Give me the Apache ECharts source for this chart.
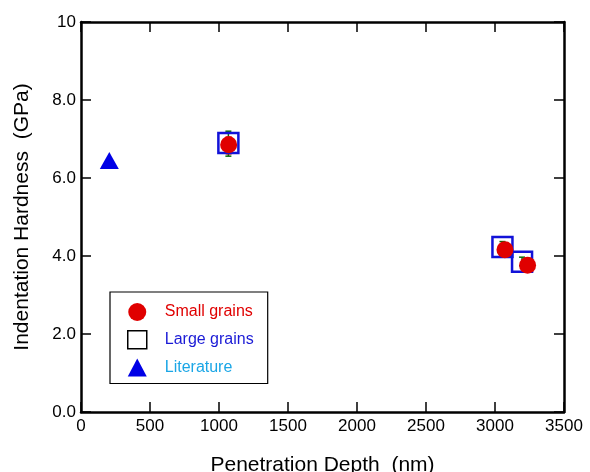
<!DOCTYPE html>
<html>
<head>
	<meta charset="utf-8" />
	<title>Indentation Hardness</title>
	<script src="https://cdn.jsdelivr.net/npm/echarts@6/dist/echarts.min.js"></script>
</head>
<body style="margin:0">
	<div id="main" style="width: 590px;height: 472px;"></div>
	<script type="text/javascript">
		// values
		var smallX = [1070, 3072, 3236];
		var smallY = [6.85, 4.16, 3.76];
		var smallLow = [6.62, 4.08, 3.70];
		var smallHigh = [7.05, 4.24, 3.82];

		var largeX = [1068, 3054, 3196];
		var largeY = [6.90, 4.23, 3.85];
		var largeLow = [6.56, 4.10, 3.75];
		var largeHigh = [7.20, 4.37, 3.97];

		var litX = [205];
		var litY = [6.45];

		var xTicks = [0, 500, 1000, 1500, 2000, 2500, 3000, 3500];
		var yTicks = [0, 2, 4, 6, 8, 10];

		function pairs(xs, ys) {
			return xs.map(function (x, i) { return [x, ys[i]]; });
		}
		function bars(xs, lo, hi) {
			return xs.map(function (x, i) { return [x, lo[i], hi[i]]; });
		}

		// vertical error bar with small caps
		function errorBar(params, api) {
			var top = api.coord([api.value(0), api.value(2)]);
			var bot = api.coord([api.value(0), api.value(1)]);
			var c = api.visual('color');
			var w = 3;
			var st = { stroke: c, lineWidth: 1.5 };
			return {
				type: 'group',
				children: [
					{ type: 'line', shape: { x1: top[0], y1: top[1], x2: bot[0], y2: bot[1] }, style: st },
					{ type: 'line', shape: { x1: top[0] - w, y1: top[1], x2: top[0] + w, y2: top[1] }, style: st },
					{ type: 'line', shape: { x1: bot[0] - w, y1: bot[1], x2: bot[0] + w, y2: bot[1] }, style: st }
				]
			};
		}

		var axisLine = { onZero: false, lineStyle: { color: '#000', width: 2.5 } };
		var tickIn = { inside: true, length: 10, lineStyle: { color: '#000', width: 1.5 } };
		var font = 'Liberation Sans';

		var myChart = echarts.init(document.getElementById('main'));

		var option = {
			animation: false,
			grid: { left: 81, right: 26, top: 22, bottom: 60, containLabel: false, outerBoundsMode: 'none' },
			legend: {
				orient: 'vertical',
				left: 110,
				top: 292,
				padding: [11, 14, 7, 17],
				itemGap: 9,
				itemWidth: 19,
				itemHeight: 18,
				borderColor: '#000',
				borderWidth: 1.2,
				textStyle: { fontFamily: font, fontSize: 16, lineHeight: 18, padding: [0, 0, 0, 13] },
				data: [
					{ name: 'Small grains', icon: 'circle', textStyle: { color: '#e00000' } },
					{ name: 'Large grains', icon: 'rect',
						itemStyle: { color: '#fff', borderColor: '#000', borderWidth: 1.5 },
						textStyle: { color: '#1a1ad6' } },
					{ name: 'Literature', icon: 'triangle', textStyle: { color: '#1aa6e6' } }
				]
			},
			xAxis: [{
				type: 'value',
				min: xTicks[0],
				max: xTicks[xTicks.length - 1],
				interval: 500,
				name: 'Penetration Depth  (nm)',
				nameLocation: 'middle',
				nameGap: 43,
				nameTextStyle: { fontFamily: font, fontSize: 21, color: '#000' },
				axisLine: axisLine,
				axisTick: tickIn,
				axisLabel: {
					fontFamily: font, fontSize: 17, color: '#000', margin: 6,
					formatter: function (v) { return String(v); }
				},
				splitLine: { show: false }
			}, {
				type: 'value',
				position: 'top',
				min: xTicks[0],
				max: xTicks[xTicks.length - 1],
				interval: 500,
				axisLine: axisLine,
				axisTick: tickIn,
				axisLabel: { show: false },
				splitLine: { show: false }
			}],
			yAxis: [{
				type: 'value',
				min: yTicks[0],
				max: yTicks[yTicks.length - 1],
				interval: 2,
				name: 'Indentation Hardness  (GPa)',
				nameLocation: 'middle',
				nameGap: 48,
				nameTextStyle: { fontFamily: font, fontSize: 21, color: '#000' },
				axisLine: axisLine,
				axisTick: tickIn,
				axisLabel: {
					fontFamily: font, fontSize: 17, color: '#000', margin: 5,
					formatter: function (v) { return v === 10 ? '10' : v.toFixed(1); }
				},
				splitLine: { show: false }
			}, {
				type: 'value',
				position: 'right',
				min: yTicks[0],
				max: yTicks[yTicks.length - 1],
				interval: 2,
				axisLine: axisLine,
				axisTick: tickIn,
				axisLabel: { show: false },
				splitLine: { show: false }
			}],
			series: [
				{
					name: 'Large grains',
					type: 'scatter',
					symbol: 'rect',
					symbolSize: 20,
					itemStyle: { color: 'rgba(0,0,0,0)', borderColor: '#1212d8', borderWidth: 2.5, opacity: 1 },
					data: pairs(largeX, largeY),
					z: 2
				},
				{
					name: 'Large grains',
					type: 'custom',
					renderItem: errorBar,
					itemStyle: { color: '#0a6a0a' },
					encode: { x: 0, y: [1, 2] },
					data: bars(largeX, largeLow, largeHigh),
					z: 1
				},
				{
					name: 'Small grains',
					type: 'custom',
					renderItem: errorBar,
					itemStyle: { color: '#e00000' },
					encode: { x: 0, y: [1, 2] },
					data: bars(smallX, smallLow, smallHigh),
					z: 1
				},
				{
					name: 'Small grains',
					type: 'scatter',
					symbol: 'circle',
					symbolSize: 17,
					itemStyle: { color: '#e00000', opacity: 1 },
					data: pairs(smallX, smallY),
					z: 3
				},
				{
					name: 'Literature',
					type: 'scatter',
					symbol: 'triangle',
					symbolSize: [19, 17],
					itemStyle: { color: '#0000e6', opacity: 1 },
					data: pairs(litX, litY),
					z: 3
				}
			]
		};

		myChart.setOption(option);
	</script>
</body>
</html>
